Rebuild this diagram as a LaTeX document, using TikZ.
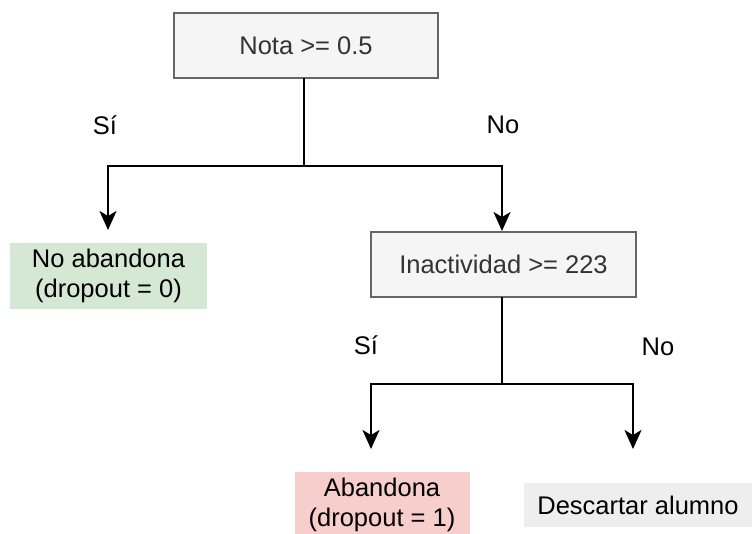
\documentclass[tikz,border=0pt]{standalone}
\usepackage{fontspec}
\setmainfont{Liberation Sans}
\usetikzlibrary{arrows.meta}
\definecolor{boxgray}{HTML}{F5F5F5}
\definecolor{boxedge}{HTML}{666666}
\definecolor{txtgray}{HTML}{333333}
\definecolor{okgreen}{HTML}{D5E8D4}
\definecolor{badred}{HTML}{F8CECC}
\definecolor{lightgray}{HTML}{EEEEEE}
\begin{document}
\begin{tikzpicture}[x=1pt,y=-1pt,
  every node/.style={font=\fontsize{25.5}{30}\selectfont, inner sep=0pt, align=center},
  decision/.style={draw=boxedge, line width=1.6pt, fill=boxgray, text=txtgray, minimum width=264pt, minimum height=65pt},
  leafbox/.style={minimum height=66pt},
  conn/.style={line width=2pt, -{Stealth[length=19pt,width=17pt,inset=5pt]}},
  lbl/.style={text=black}
]
\useasboundingbox (0,0) rectangle (752,533);
\fill[white] (0,0) rectangle (752,533);

\node[decision] (nota) at (306,45.5) {Nota >= 0.5};
\node[leafbox, fill=okgreen, minimum width=197pt] (noab) at (108.5,275.5) {No abandona\\(dropout = 0)};
\node[decision, minimum width=265pt] (inact) at (503.5,264.5) {Inactividad >= 223};
\node[leafbox, fill=badred, minimum width=175pt] (aband) at (382,505) {Abandona\\(dropout = 1)};
\node[fill=lightgray, minimum width=228pt, minimum height=44pt] (desc) at (638,505) {Descartar alumno};

\node[lbl] (si1) at (105,125) {Sí};
\node[lbl] (no1) at (503,125) {No};
\node[lbl] (si2) at (366,345) {Sí};
\node[lbl] (no2) at (658,347) {No};

\coordinate (s1) at (304,166);
\coordinate (t1) at (108,230);
\coordinate (t2) at (502,231);
\coordinate (s2) at (502,384);
\coordinate (t3) at (371,449);
\coordinate (t4) at (633,449);

\draw[line width=2pt] (304,78) -- (s1);
\draw[conn] (s1) -| (t1);
\draw[conn] (s1) -| (t2);
\draw[line width=2pt] (502,297) -- (s2);
\draw[conn] (s2) -| (t3);
\draw[conn] (s2) -| (t4);
\end{tikzpicture}
\end{document}
